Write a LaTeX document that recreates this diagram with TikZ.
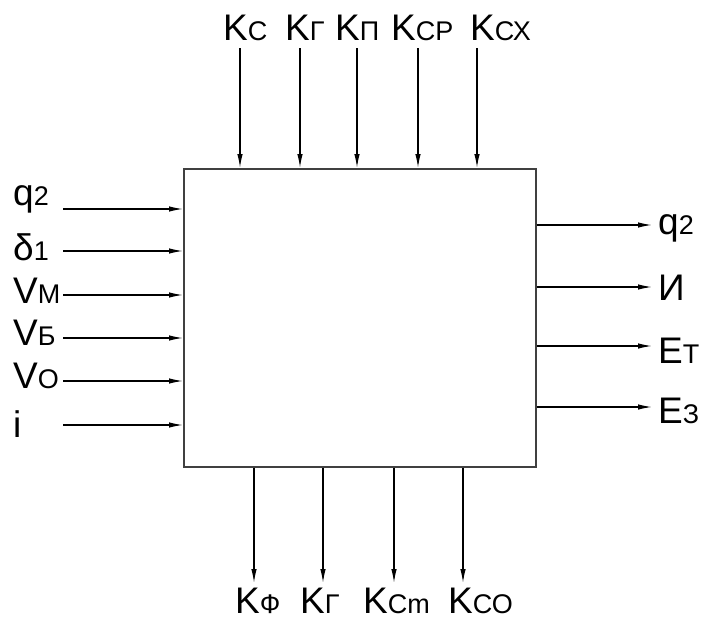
\documentclass[tikz,border=0pt]{standalone}
\usepackage{fontspec}
\setmainfont{Liberation Sans}
\usetikzlibrary{arrows.meta}
\newcommand{\bigf}{\fontsize{37}{40}\selectfont}
\newcommand{\smf}{\fontsize{27}{30}\selectfont}
\newcommand{\lab}[2]{{\bigf #1}{\smf #2}}
\tikzset{
  arr/.style={line width=1.3pt, -{Latex[length=14pt,width=5.5pt]}},
  lbl/.style={anchor=base west, inner sep=0pt, text=black},
}
\begin{document}
\begin{tikzpicture}[x=1pt,y=-1pt]
\useasboundingbox (0,0) rectangle (703,621);
\node[draw=black!75, line width=1.6pt, inner sep=0pt, minimum width=352pt, minimum height=298pt, anchor=north west] (box) at (183,168) {};
% top inputs
\foreach \i/\x in {1/240,2/300,3/357,4/418,5/477}{
  \coordinate (t\i) at (\x,48);
  \draw[arr] (t\i) -- (t\i |- box.north);
}
\node[lbl] (lt1) at (223,40) {\lab{K}{С}};
\node[lbl] (lt2) at (285,40) {\lab{K}{Г}};
\node[lbl] (lt3) at (335,40) {\lab{K}{П}};
\node[lbl] (lt4) at (391,40) {\lab{K}{СР}};
\node[lbl] (lt5) at (470,40) {\lab{K}{СХ}};
% left inputs
\foreach \i/\y in {1/209,2/251,3/295,4/338,5/381,6/425}{
  \coordinate (l\i) at (63,\y);
  \draw[arr] (l\i) -- (l\i -| box.west);
}
\node[lbl] (ll1) at (13,205) {\lab{q}{2}};
\node[lbl] (ll2) at (13,260) {\lab{δ}{1}};
\node[lbl] (ll3) at (13,303) {\lab{V}{М}};
\node[lbl] (ll4) at (13,345) {\lab{V}{Б}};
\node[lbl] (ll5) at (13,388) {\lab{V}{О}};
\node[lbl] (ll6) at (13,437) {\lab{i}{}};
% right outputs
\foreach \i/\y in {1/225,2/287,3/346,4/407}{
  \coordinate (r\i) at (652,\y);
  \draw[arr] (r\i -| box.east) -- (r\i);
}
\node[lbl] (lr1) at (658,234) {\lab{q}{2}};
\node[lbl] (lr2) at (658,300) {\lab{И}{}};
\node[lbl] (lr3) at (658,363) {\lab{E}{Т}};
\node[lbl] (lr4) at (658,423) {\lab{E}{З}};
% bottom outputs
\foreach \i/\x in {1/254,2/323,3/394,4/463}{
  \coordinate (b\i) at (\x,583);
  \draw[arr] (b\i |- box.south) -- (b\i);
}
\node[lbl] (lb1) at (235,613) {\lab{K}{Ф}};
\node[lbl] (lb2) at (300,613) {\lab{K}{Г}};
\node[lbl] (lb3) at (363,613) {\lab{K}{Сm}};
\node[lbl] (lb4) at (448,613) {\lab{K}{СО}};
\end{tikzpicture}
\end{document}
